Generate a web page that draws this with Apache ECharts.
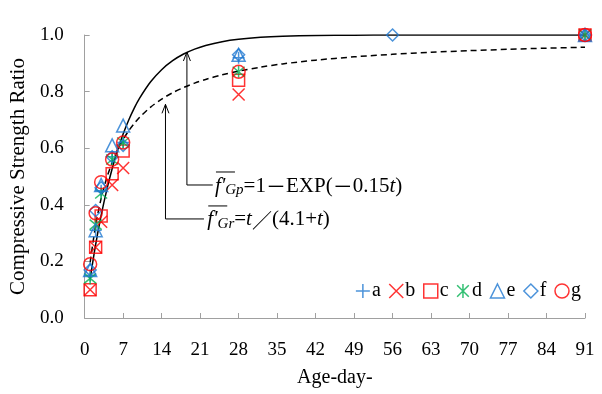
<!DOCTYPE html>
<html><head><meta charset="utf-8">
<script src="https://cdn.jsdelivr.net/npm/echarts@6/dist/echarts.min.js"></script>
<style>html,body{margin:0;padding:0;background:#fff}#c{width:602px;height:394px}</style>
</head><body><div id="c"></div>
<script>
// ---- data ----
const days = [1, 2, 3, 5, 7, 28, 91];
const daysF = [1, 2, 3, 5, 7, 28, 56, 91];
const seriesA = [0.15, 0.31, 0.45, 0.57, 0.62, 0.92, 1.0];
const seriesB = [0.10, 0.25, 0.34, 0.47, 0.53, 0.79, 1.0];
const seriesC = [0.10, 0.25, 0.36, 0.51, 0.59, 0.84, 1.0];
const seriesD = [0.14, 0.33, 0.44, 0.56, 0.62, 0.87, 1.0];
const seriesE = [0.17, 0.31, 0.47, 0.61, 0.68, 0.93, 1.0];
const seriesF = [0.17, 0.38, 0.46, 0.57, 0.61, 0.93, 1.0, 1.0];
const seriesG = [0.19, 0.37, 0.48, 0.56, 0.62, 0.87, 1.0];
const curveDays = [1,2,3,4,5,6,7,8,9,10,12,14,16,18,20,22,25,28,32,36,42,49,56,63,70,77,84,91];
const gpValues = [0.1393,0.2592,0.3624,0.4512,0.5276,0.5934,0.6501,0.6988,0.7408,0.7769,0.8347,0.8775,0.9093,0.9328,0.9502,0.9631,0.9765,0.9850,0.9918,0.9955,0.9982,0.9994,0.9998,0.9999,1.0,1.0,1.0,1.0];
const grValues = [0.1961,0.3279,0.4225,0.4938,0.5495,0.5941,0.6306,0.6612,0.6870,0.7092,0.7453,0.7735,0.7960,0.8145,0.8299,0.8429,0.8591,0.8723,0.8864,0.8978,0.9111,0.9228,0.9318,0.9389,0.9447,0.9494,0.9535,0.9569];
const seriesNames = ['a','b','c','d','e','f','g'];
const xTickStep = 7, xMax = 91, yTickStep = 0.2, yMax = 1.0;
const labelGp = 'f\'', subGp = 'Gp', labelGr = 'f\'', subGr = 'Gr';

// ---- styles ----
const BLUE = '#1f78d1', RED = '#ff0000', GREEN = '#00b050';
const SERIF = '"Liberation Serif","Times New Roman",serif';
const sym = {
  plus: 'path://M0,5L10,5M5,0L5,10',
  cross: 'path://M0,0L10,10M10,0L0,10',
  star: 'path://M0,0L10,10M10,0L0,10M5,-1L5,11'
};
const defs = [
  {name:'a', x:days, y:seriesA, symbol:sym.plus, color:BLUE, size:12},
  {name:'b', x:days, y:seriesB, symbol:sym.cross, color:RED, size:12},
  {name:'c', x:days, y:seriesC, symbol:'rect', color:RED, size:12},
  {name:'d', x:days, y:seriesD, symbol:sym.star, color:GREEN, size:12},
  {name:'e', x:days, y:seriesE, symbol:'triangle', color:BLUE, size:13},
  {name:'f', x:daysF, y:seriesF, symbol:'diamond', color:BLUE, size:12},
  {name:'g', x:days, y:seriesG, symbol:'circle', color:RED, size:13}
];

const chart = echarts.init(document.getElementById('c'), null, {renderer:'canvas'});
const scatterSeries = defs.map(d => ({
  type:'scatter', name:d.name, symbol:d.symbol, symbolSize:d.size,
  data: d.x.map((t,i)=>[t, d.y[i]]),
  itemStyle:{color:'none', borderColor:d.color, borderWidth:1.5},
  z: 3
}));
const option = {
  animation:false,
  backgroundColor:'#fff',
  grid:{left:83.5, right:17, top:35, bottom:76},
  xAxis:{type:'value', min:0, max:xMax, interval:xTickStep,
    name:'Age-day-', nameLocation:'middle', nameGap:50,
    nameTextStyle:{fontFamily:SERIF, fontSize:20, color:'#000'},
    axisLine:{lineStyle:{color:'#a0a0a0', width:1}},
    axisTick:{inside:true, length:5, lineStyle:{color:'#a0a0a0'}},
    axisLabel:{fontFamily:SERIF, fontSize:19, color:'#000', margin:23},
    splitLine:{show:false}},
  yAxis:{type:'value', min:0, max:yMax, interval:yTickStep,
    name:'Compressive Strength Ratio', nameLocation:'middle', nameGap:51,
    nameTextStyle:{fontFamily:SERIF, fontSize:21, color:'#000'},
    axisLine:{show:true, lineStyle:{color:'#a0a0a0', width:1}},
    axisTick:{show:true, inside:true, length:5, lineStyle:{color:'#a0a0a0'}},
    axisLabel:{fontFamily:SERIF, fontSize:19, color:'#000', margin:21,
      formatter:v=>v.toFixed(1)},
    splitLine:{show:false}},
  legend:{right:16, top:276, itemWidth:14, itemHeight:14, itemGap:6,
    textStyle:{fontFamily:SERIF, fontSize:20, color:'#000', padding:[0,0,0,-3]},
    data: defs.map(d=>({name:d.name, icon:d.symbol,
      itemStyle:{color:'none', borderColor:d.color, borderWidth:1.5}}))},
  series:[
    {type:'line', name:'Gp', data:curveDays.map((t,i)=>[t,gpValues[i]]), smooth:0.3,
     showSymbol:false, lineStyle:{color:'#000', width:1.5}, z:2},
    {type:'line', name:'Gr', data:curveDays.map((t,i)=>[t,grValues[i]]), smooth:0.3,
     showSymbol:false, lineStyle:{color:'#000', width:1.5, type:[6,4]}, z:2},
    ...scatterSeries
  ]
};
chart.setOption(option);

// ---- annotations (in data space) ----
const ann = [
  {tipT:18.6, tipV:0.94, baseV:0.47, endT:23.3, textT:23.7, main:labelGp, sub:subGp, kind:'gp'},
  {tipT:14.7, tipV:0.755, baseV:0.35, endT:21.7, textT:22.3, main:labelGr, sub:subGr, kind:'gr'}
];
const g = [];
ann.forEach(a => {
  const tip = chart.convertToPixel({gridIndex:0}, [a.tipT, a.tipV]);
  const base = chart.convertToPixel({gridIndex:0}, [a.tipT, a.baseV]);
  const end = chart.convertToPixel({gridIndex:0}, [a.endT, a.baseV]);
  const txt = chart.convertToPixel({gridIndex:0}, [a.textT, a.baseV]);
  g.push({type:'polyline', shape:{points:[tip, base, end]}, style:{stroke:'#000', lineWidth:1, fill:null}, z:10});
  g.push({type:'polyline', shape:{points:[[tip[0]-3.5, tip[1]+9],[tip[0], tip[1]],[tip[0]+3.5, tip[1]+9]]}, style:{stroke:'#000', lineWidth:1, fill:null}, z:10});
  const rich = {
    f:{fontFamily:SERIF, fontStyle:'italic', fontSize:21, fill:'#000'},
    s:{fontFamily:SERIF, fontStyle:'italic', fontSize:15, fill:'#000', padding:[9,0,0,0]},
    n:{fontFamily:SERIF, fontSize:21, fill:'#000'},
    i:{fontFamily:SERIF, fontStyle:'italic', fontSize:21, fill:'#000'},
    k:{fontFamily:'"Noto Sans CJK JP",sans-serif', fontSize:20, fill:'#000'}
  };
  const text = a.kind==='gp'
    ? '{f|' + a.main + '}{s|' + a.sub + '}{n|=1}{k|－}{n|EXP(}{k|－}{n|0.15}{i|t}{n|)}'
    : '{f|' + a.main + '}{s|' + a.sub + '}{n|=}{i|t}{k|／}{n|(4.1+}{i|t}{n|)}';
  g.push({type:'text', x:txt[0], y:txt[1]+1, style:{text:text, rich:rich, verticalAlign:'middle', align:'left'}, z:10});
  g.push({type:'line', shape:{x1:txt[0]+1, y1:txt[1]-13, x2:txt[0]+20, y2:txt[1]-13}, style:{stroke:'#000', lineWidth:1}, z:10});
});
chart.setOption({graphic:g});
</script>
</body></html>
